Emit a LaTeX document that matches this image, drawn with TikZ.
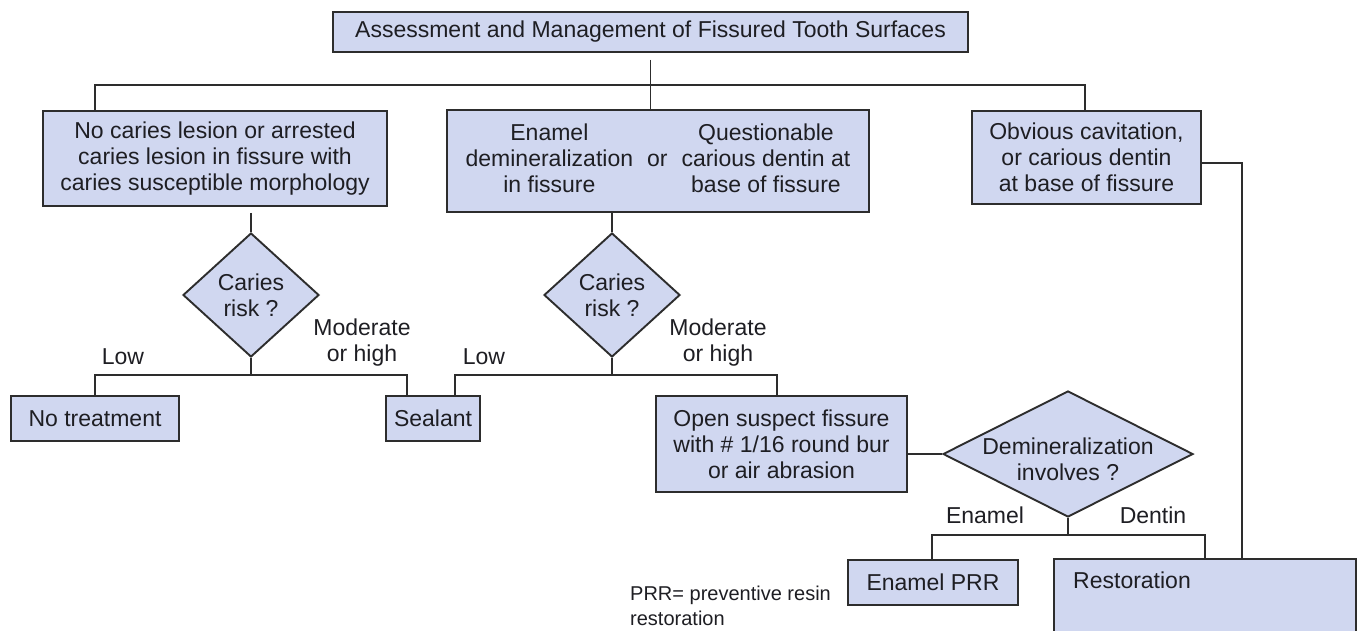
\documentclass[tikz,border=0pt]{standalone}
\usepackage{fontspec}
\setmainfont{Liberation Sans}
\usetikzlibrary{shapes.geometric,calc}
\definecolor{boxfill}{RGB}{208,215,240}
\definecolor{ink}{RGB}{30,30,35}
\definecolor{edge}{RGB}{45,45,45}
\begin{document}
\begin{tikzpicture}[x=1pt,y=-1pt,
  font=\fontsize{23}{26}\selectfont, text=ink,
  box/.style={draw=edge, line width=1.9pt, fill=boxfill, inner sep=0pt, align=center},
  dia/.style={diamond, draw=edge, line width=1.9pt, fill=boxfill, inner sep=0pt},
  conn/.style={draw=edge, line width=1.9pt},
  lbl/.style={inner sep=0pt, align=center}]
\useasboundingbox (0,0) rectangle (1359,630);
\fill[white] (0,0) rectangle (1359,630);
\clip (0,0) rectangle (1359,630);

% boxes
\node[box, minimum width=635, minimum height=40] (title) at (650.5,32) {Assessment and Management of Fissured Tooth Surfaces};
\node[box, minimum width=344, minimum height=95] (box1) at (215,158.5) {No caries lesion or arrested\\caries lesion in fissure with\\caries susceptible morphology};
\node[box, minimum width=422, minimum height=102] (box2) at (658,161) {\begin{tabular}{@{}c@{\hspace{14pt}}c@{\hspace{14pt}}c@{}}Enamel && Questionable\\demineralization & or & carious dentin at\\in fissure && base of fissure\end{tabular}};
\node[box, minimum width=229, minimum height=93] (box3) at (1086.5,157.5) {Obvious cavitation,\\or carious dentin\\at base of fissure};
\node[dia, minimum width=136, minimum height=124, label={[lbl]center:{Caries\\risk ?}}] (d1) at (251,295) {};
\node[dia, minimum width=136, minimum height=124, label={[lbl]center:{Caries\\risk ?}}] (d2) at (612,295) {};
\node[box, minimum width=168, minimum height=45] (notreat) at (95,418.5) {No treatment};
\node[box, minimum width=94, minimum height=45] (sealant) at (433,418.5) {Sealant};
\node[box, minimum width=251, minimum height=96] (open) at (781.5,444) {Open suspect fissure\\with \# 1/16 round bur\\or air abrasion};
\node[dia, minimum width=250, minimum height=126, label={[lbl,yshift=-5pt]center:{Demineralization\\involves ?}}] (d3) at (1068,454) {};
\node[box, minimum width=170, minimum height=45] (prr) at (933,582.5) {Enamel PRR};
\node[box, minimum width=302, minimum height=95, anchor=north west] (rest) at (1053,558) {};
\node[lbl, anchor=west] (restt) at ($(rest.north west)+(20,22)$) {Restoration};

% branch labels
\node[lbl] (low1) at (123,357) {Low};
\node[lbl] (mod1) at (362,343) {Moderate\\or high};
\node[lbl] (low2) at (484,357) {Low};
\node[lbl] (mod2) at (718,343) {Moderate\\or high};
\node[lbl] (enl) at (985,515) {Enamel};
\node[lbl] (den) at (1153,515) {Dentin};
\node[lbl, anchor=west, align=left, font=\fontsize{20}{25}\selectfont] (note) at (630,605.5) {PRR= preventive resin\\restoration};

% connectors
\coordinate (b0L) at (95,85);
\coordinate (b0R) at (1085,85);
\coordinate (b1L) at (95,375);
\coordinate (b1R) at (407,375);
\coordinate (b2L) at (455,375);
\coordinate (b2R) at (777,375);
\coordinate (b3L) at (932,535);
\coordinate (b3R) at (1205,535);
\coordinate (r3) at (1242,163);

\draw[conn, shorten <=7pt] (title.south) -- (title.south |- box2.north);
\draw[conn] (b0L |- box1.north) -- (b0L) -- (b0R) -- (b0R |- box3.north);

\draw[conn, shorten <=6pt] (box1.south -| d1.north) -- (d1.north);
\draw[conn] (d1.south) -- (d1.south |- b1L);
\draw[conn] (b1L |- notreat.north) -- (b1L) -- (b1R) -- (b1R |- sealant.north);

\draw[conn] (box2.south -| d2.north) -- (d2.north);
\draw[conn] (d2.south) -- (d2.south |- b2L);
\draw[conn] (b2L |- sealant.north) -- (b2L) -- (b2R) -- (b2R |- open.north);

\draw[conn] (open.east |- d3.west) -- (d3.west);
\draw[conn] (d3.south) -- (d3.south |- b3L);
\draw[conn] (b3L |- prr.north) -- (b3L) -- (b3R) -- (b3R |- rest.north);

\draw[conn] (box3.east |- r3) -- (r3) -- (r3 |- rest.north);
\end{tikzpicture}
\end{document}
